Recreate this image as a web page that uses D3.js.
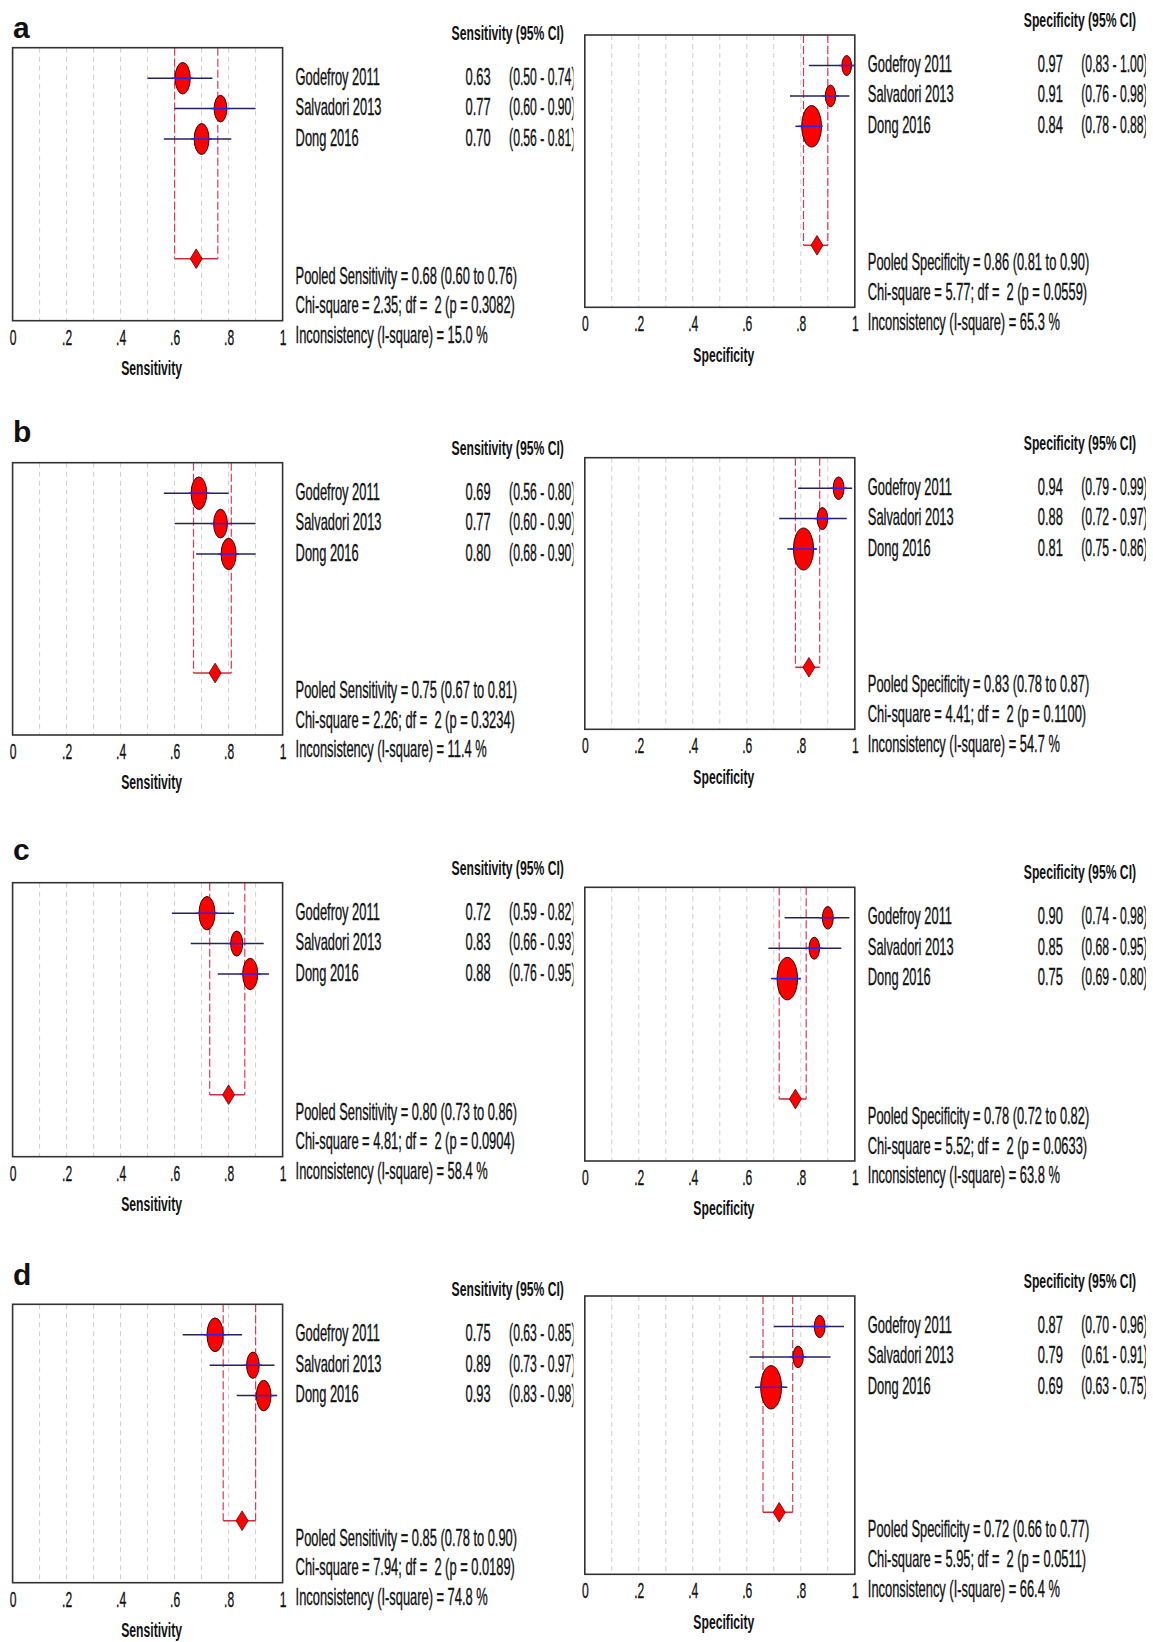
<!DOCTYPE html>
<html>
<head>
<meta charset="utf-8">
<script src="https://cdn.jsdelivr.net/npm/d3@7"></script>
<style>
  body { margin: 0; background: #fff; }
  svg text { font-family: "Liberation Sans", Arial, sans-serif; fill: #111; white-space: pre; }
</style>
</head>
<body>
<svg id="chart" width="1153" height="1642"></svg>
<script>
// studies and panels
var studies = ["Godefroy 2011", "Salvadori 2013", "Dong 2016"];
var panelLetters = ["a", "b", "c", "d"];
var measures = ["Sensitivity", "Specificity"];
var axisTicks = [0, 0.2, 0.4, 0.6, 0.8, 1];
var df = 2;

// sensitivity, one row per panel (a..d), one value per study
var sensEst = [[0.63, 0.77, 0.70], [0.69, 0.77, 0.80], [0.72, 0.83, 0.88], [0.75, 0.89, 0.93]];
var sensLo  = [[0.50, 0.60, 0.56], [0.56, 0.60, 0.68], [0.59, 0.66, 0.76], [0.63, 0.73, 0.83]];
var sensHi  = [[0.74, 0.90, 0.81], [0.80, 0.90, 0.90], [0.82, 0.93, 0.95], [0.85, 0.97, 0.98]];
var sensWeight = [[37.5, 26.5, 36], [40, 31, 37], [42, 23.5, 37], [43, 26, 35]];
var sensPooled = [[0.68, 0.60, 0.76], [0.75, 0.67, 0.81], [0.80, 0.73, 0.86], [0.85, 0.78, 0.90]];
var sensChi = [2.35, 2.26, 4.81, 7.94];
var sensP = ["0.3082", "0.3234", "0.0904", "0.0189"];
var sensI2 = [15.0, 11.4, 58.4, 74.8];

// specificity
var specEst = [[0.97, 0.91, 0.84], [0.94, 0.88, 0.81], [0.90, 0.85, 0.75], [0.87, 0.79, 0.69]];
var specLo  = [[0.83, 0.76, 0.78], [0.79, 0.72, 0.75], [0.74, 0.68, 0.69], [0.70, 0.61, 0.63]];
var specHi  = [[1.00, 0.98, 0.88], [0.99, 0.97, 0.86], [0.98, 0.95, 0.80], [0.96, 0.91, 0.75]];
var specWeight = [[15, 17.5, 64.4], [19.2, 18.2, 66.3], [19.2, 18.2, 68], [18.8, 17.5, 70.7]];
var specPooled = [[0.86, 0.81, 0.90], [0.83, 0.78, 0.87], [0.78, 0.72, 0.82], [0.72, 0.66, 0.77]];
var specChi = [5.77, 4.41, 5.52, 5.95];
var specP = ["0.0559", "0.1100", "0.0633", "0.0511"];
var specI2 = [65.3, 54.7, 63.8, 66.4];

// layout (kept apart from the data)
var colX = [12.6, 584.8];
var boxW = 270;
var boxTop = [[47.7, 35], [462.7, 457.7], [882.7, 887.3], [1304.3, 1296]];
var boxH = [[273, 272.3], [272.3, 271.6], [274, 273.7], [278.4, 278.3]];
var letterY = [38.3, 441.7, 860, 1285];
var clipRight = [573.5, 1146];
var sx = 0.56;   // horizontal squeeze of the text, the original is stretched vertically

var svg = d3.select("svg#chart");
svg.append("rect").attr("width", 1153).attr("height", 1642).attr("fill", "#fff");

var defs = svg.append("defs");
clipRight.forEach(function(r, i) {
    defs.append("clipPath").attr("id", "clip" + i)
        .append("rect").attr("x", i == 0 ? 0 : 578).attr("y", 0)
        .attr("width", i == 0 ? r : r - 578).attr("height", 1642);
});

var rScale = d3.scaleSqrt().domain([0, 100]).range([0, 25.8]);
var f2 = d3.format(".2f");

function label(g, x, y, s, size, weight, anchor, squeeze) {
    return g.append("text")
        .attr("transform", "translate(" + x + "," + y + ") scale(" + squeeze + ",1)")
        .attr("font-size", size)
        .attr("font-weight", weight)
        .attr("text-anchor", anchor)
        .attr("dy", "0.35em")
        .attr("stroke", "#111").attr("stroke-width", weight == "bold" ? 0 : 0.35)
        .text(s);
}

function drawPanel(row, col) {
    var est = col == 0 ? sensEst[row] : specEst[row];
    var lo = col == 0 ? sensLo[row] : specLo[row];
    var hi = col == 0 ? sensHi[row] : specHi[row];
    var w = col == 0 ? sensWeight[row] : specWeight[row];
    var pooled = col == 0 ? sensPooled[row] : specPooled[row];
    var chi = col == 0 ? sensChi[row] : specChi[row];
    var p = col == 0 ? sensP[row] : specP[row];
    var i2 = col == 0 ? sensI2[row] : specI2[row];
    var name = measures[col];

    var x0 = colX[col], top = boxTop[row][col], h = boxH[row][col];
    var x = d3.scaleLinear().domain([0, 1]).range([x0, x0 + boxW]);
    var y = d3.scaleLinear().domain([0, 1]).range([top + 30.5, top + 60.9]);
    var yDiamond = top + h - 62;

    var rows = studies.map(function(s, i) {
        return {name: s, est: est[i], lo: lo[i], hi: hi[i], w: w[i], i: i};
    });

    var g = svg.append("g").attr("class", "panel");

    // grid
    g.selectAll(".grid")
        .data(d3.range(1, 10).map(function(d) { return d / 10; }))
        .enter().append("line")
        .attr("class", "grid")
        .attr("x1", function(d) { return x(d); }).attr("x2", function(d) { return x(d); })
        .attr("y1", top).attr("y2", top + h)
        .attr("stroke", "#cfcfcf").attr("stroke-width", 1)
        .attr("stroke-dasharray", "5,4");

    // pooled CI guides
    g.selectAll(".pool")
        .data([pooled[1], pooled[2]])
        .enter().append("line")
        .attr("class", "pool")
        .attr("x1", function(d) { return x(d); }).attr("x2", function(d) { return x(d); })
        .attr("y1", top).attr("y2", yDiamond)
        .attr("stroke", "#dd3a5a").attr("stroke-width", 1.2)
        .attr("stroke-dasharray", "8,3");
    g.append("line")
        .attr("x1", x(pooled[1])).attr("x2", x(pooled[2]))
        .attr("y1", yDiamond).attr("y2", yDiamond)
        .attr("stroke", "#c8303c").attr("stroke-width", 1.6);

    // frame
    g.append("rect")
        .attr("x", x0).attr("y", top).attr("width", boxW).attr("height", h)
        .attr("fill", "none").attr("stroke", "#333").attr("stroke-width", 1.6);

    // study CIs
    g.selectAll(".ci")
        .data(rows).enter().append("line")
        .attr("class", "ci")
        .attr("x1", function(d) { return x(d.lo); }).attr("x2", function(d) { return x(d.hi); })
        .attr("y1", function(d) { return y(d.i); }).attr("y2", function(d) { return y(d.i); })
        .attr("stroke", "#23235e").attr("stroke-width", 1.5);

    g.selectAll(".marker")
        .data(rows).enter().append("ellipse")
        .attr("class", "marker")
        .attr("cx", function(d) { return x(d.est); })
        .attr("cy", function(d) { return y(d.i); })
        .attr("rx", function(d) { return rScale(d.w) * 0.48; })
        .attr("ry", function(d) { return rScale(d.w); })
        .attr("fill", "#ff0000").attr("stroke", "#3a0000").attr("stroke-width", 1);

    g.selectAll(".mid")
        .data(rows).enter().append("line")
        .attr("class", "mid")
        .attr("x1", function(d) { return Math.max(x(d.lo), x(d.est) - rScale(d.w) * 0.48 - 3); })
        .attr("x2", function(d) { return Math.min(x(d.hi), x(d.est) + rScale(d.w) * 0.48 + 3); })
        .attr("y1", function(d) { return y(d.i); }).attr("y2", function(d) { return y(d.i); })
        .attr("stroke", "#2424ff").attr("stroke-width", 1.5);

    // pooled diamond
    var cx = x(pooled[0]);
    g.append("path")
        .attr("d", d3.line()([[cx, yDiamond - 9.8], [cx + 6, yDiamond], [cx, yDiamond + 9.8], [cx - 6, yDiamond]]) + "Z")
        .attr("fill", "#ff0000").attr("stroke", "#5a0000").attr("stroke-width", 0.8);

    // axis
    var axis = d3.axisBottom(x)
        .tickValues(axisTicks)
        .tickSize(0)
        .tickPadding(8.2)
        .tickFormat(function(d) {
            if (d == 0 || d == 1) return String(d);
            return d3.format(".1f")(d).replace(/^0/, "");
        });
    var ag = g.append("g").attr("transform", "translate(0," + (top + h) + ")").call(axis);
    ag.select(".domain").remove();
    ag.selectAll("text")
        .attr("font-size", 22)
        .attr("fill", "#111")
        .attr("stroke", "#111").attr("stroke-width", 0.35)
        .attr("transform", "scale(0.55,1)");

    label(g, x0 + 139, top + h + 47, name, 21, "bold", "middle", 0.58);

    // table text
    label(g, x0 + 439, top - 15.4, name + " (95% CI)", 21, "bold", "start", 0.58);

    var ciCol = g.append("g").attr("clip-path", "url(#clip" + col + ")");
    rows.forEach(function(d) {
        var ty = y(d.i) - 1.5;
        label(g, x0 + 283, ty, d.name, 23, "normal", "start", sx);
        label(g, x0 + 453, ty, f2(d.est), 23, "normal", "start", sx);
        label(ciCol, x0 + 496.5, ty, "(" + f2(d.lo) + " - " + f2(d.hi) + ")", 23, "normal", "start", 0.53);
    });

    var bottom = top + h;
    label(g, x0 + 283, bottom - 45.2,
        "Pooled " + name + " = " + f2(pooled[0]) + " (" + f2(pooled[1]) + " to " + f2(pooled[2]) + ")",
        23, "normal", "start", sx);
    label(g, x0 + 283, bottom - 15.3,
        "Chi-square = " + f2(chi) + "; df =  " + df + " (p = " + p + ")",
        23, "normal", "start", sx);
    label(g, x0 + 283, bottom + 14.2,
        "Inconsistency (I-square) = " + d3.format(".1f")(i2) + " %",
        23, "normal", "start", sx);
}

panelLetters.forEach(function(letter, row) {
    svg.append("text")
        .attr("x", 13).attr("y", letterY[row])
        .attr("font-size", 30).attr("font-weight", "bold")
        .text(letter);
    drawPanel(row, 0);
    drawPanel(row, 1);
});
</script>
</body>
</html>
